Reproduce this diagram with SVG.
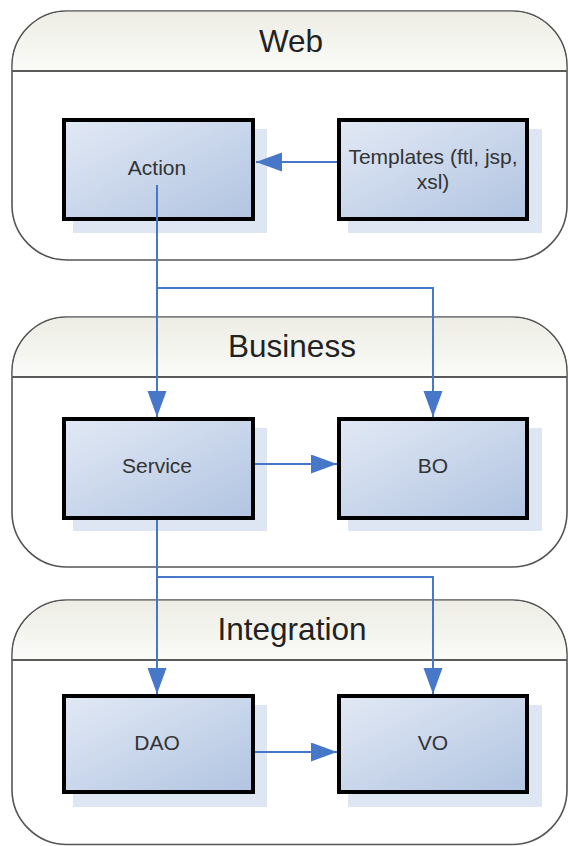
<svg xmlns="http://www.w3.org/2000/svg" width="570" height="846" viewBox="0 0 570 846">
<style>
.panel{fill:#ffffff;stroke:#555555;stroke-width:1.6}
.hdr{fill:url(#hdrg);stroke:none}
.hline{stroke:#5a5a5a;stroke-width:2}
.title{font-family:"Liberation Sans",Arial,sans-serif;font-size:31.5px;fill:#222222;text-anchor:middle}
.box{fill:url(#boxg);stroke:#000000;stroke-width:4}
.shadow{fill:#dde6f2;stroke:none}
.lbl{font-family:"Liberation Sans",Arial,sans-serif;font-size:21px;fill:#333333;text-anchor:middle}
.conn{fill:none;stroke:#4677c8;stroke-width:2}
</style>
<defs>
<linearGradient id="hdrg" x1="0" y1="0" x2="0" y2="1">
<stop offset="0" stop-color="#ededE5"/>
<stop offset="1" stop-color="#fbfbf8"/>
</linearGradient>
<linearGradient id="boxg" x1="0" y1="0" x2="1" y2="1">
<stop offset="0" stop-color="#e2e9f5"/>
<stop offset="1" stop-color="#b1c4e1"/>
</linearGradient>
<marker id="arr" markerUnits="userSpaceOnUse" markerWidth="28" markerHeight="20" refX="26" refY="9.5" orient="auto">
<path d="M0,0 L26,9.5 L0,19 Z" fill="#4677c8"/>
</marker>
</defs>

<g id="panel-web">
<rect class="panel" x="12" y="11" width="555" height="249" rx="55" ry="55"/>
<path class="hdr" d="M12.8,71 V66 A54.2,54.2 0 0 1 67,11.8 H512 A54.2,54.2 0 0 1 566.2,66 V71 Z"/>
<line class="hline" x1="12" y1="71" x2="567" y2="71"/>
<text class="title" x="291" y="52">Web</text>
</g>

<g id="panel-business">
<rect class="panel" x="12" y="317" width="555" height="250" rx="55" ry="55"/>
<path class="hdr" d="M12.8,377 V372 A54.2,54.2 0 0 1 67,317.8 H512 A54.2,54.2 0 0 1 566.2,372 V377 Z"/>
<line class="hline" x1="12" y1="377" x2="567" y2="377"/>
<text class="title" x="292" y="357">Business</text>
</g>

<g id="panel-integration">
<rect class="panel" x="12" y="600" width="555" height="244.5" rx="55" ry="55"/>
<path class="hdr" d="M12.8,660 V655 A54.2,54.2 0 0 1 67,600.8 H512 A54.2,54.2 0 0 1 566.2,655 V660 Z"/>
<line class="hline" x1="12" y1="660" x2="567" y2="660"/>
<text class="title" x="292" y="640">Integration</text>
</g>

<g id="node-action">
<rect class="shadow" x="73" y="129" width="194" height="104"/>
<rect class="box" x="64" y="120" width="189" height="99"/>
<text class="lbl" x="157" y="175">Action</text>
</g>

<g id="node-templates">
<rect class="shadow" x="348" y="129" width="194" height="104"/>
<rect class="box" x="339" y="120" width="188" height="99"/>
<text class="lbl" x="433" y="164">Templates (ftl, jsp,</text>
<text class="lbl" x="433" y="189">xsl)</text>
</g>

<g id="node-service">
<rect class="shadow" x="73" y="428" width="194" height="103"/>
<rect class="box" x="64" y="419" width="189" height="99"/>
<text class="lbl" x="157" y="473">Service</text>
</g>

<g id="node-bo">
<rect class="shadow" x="348" y="428" width="194" height="103"/>
<rect class="box" x="339" y="419" width="188" height="99"/>
<text class="lbl" x="433" y="473">BO</text>
</g>

<g id="node-dao">
<rect class="shadow" x="73" y="705" width="194" height="102"/>
<rect class="box" x="64" y="696" width="189" height="96"/>
<text class="lbl" x="157" y="750">DAO</text>
</g>

<g id="node-vo">
<rect class="shadow" x="348" y="705" width="194" height="102"/>
<rect class="box" x="339" y="696" width="188" height="96"/>
<text class="lbl" x="433" y="750">VO</text>
</g>

<g id="connectors">
<path class="conn" d="M337,162 H256" marker-end="url(#arr)"/>
<path class="conn" d="M157,185 V417" marker-end="url(#arr)"/>
<path class="conn" d="M157,288 H433 V417" marker-end="url(#arr)"/>
<path class="conn" d="M255,464 H337" marker-end="url(#arr)"/>
<path class="conn" d="M157,520 V694" marker-end="url(#arr)"/>
<path class="conn" d="M157,577 H433 V694" marker-end="url(#arr)"/>
<path class="conn" d="M255,752 H337" marker-end="url(#arr)"/>
</g>
</svg>
